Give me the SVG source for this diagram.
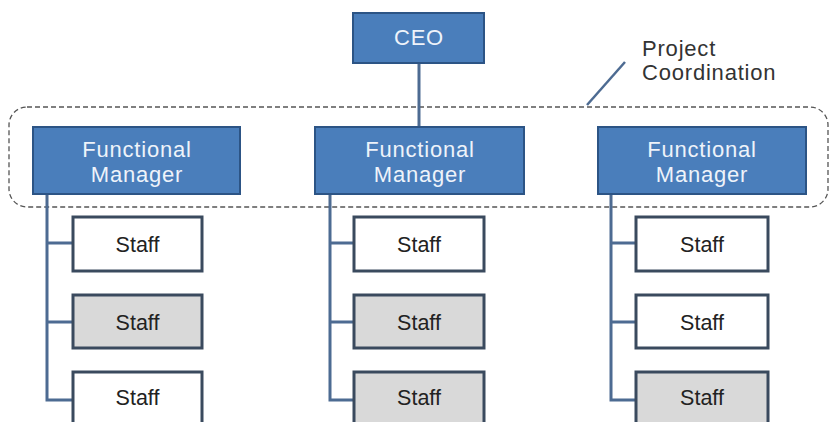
<svg xmlns="http://www.w3.org/2000/svg" width="830" height="422" viewBox="0 0 830 422">
<style>
.mgr{fill:#4A7EBB;stroke:#2C5485;stroke-width:2}
.mt{font-family:"Liberation Sans",Arial,sans-serif;font-size:22px;fill:#EEF3FA;text-anchor:middle;letter-spacing:0.8px}
.st{stroke:#3A4A5E;stroke-width:3}
.w{fill:#FFFFFF}
.g{fill:#D9D9D9}
.stt{font-family:"Liberation Sans",Arial,sans-serif;font-size:21.5px;fill:#222;text-anchor:middle}
.con{fill:none;stroke:#4D6B92;stroke-width:3}
.pc{font-family:"Liberation Sans",Arial,sans-serif;font-size:22px;fill:#333;letter-spacing:0.8px}
</style>
<rect width="830" height="422" fill="#FFFFFF"/>
<g id="coordination">
<rect x="9" y="107" width="819" height="100" rx="18" fill="none" stroke="#555" stroke-width="1.3" stroke-dasharray="5 3"/>
<line x1="587" y1="105" x2="625" y2="62" stroke="#4D6B92" stroke-width="2.5"/>
<text class="pc" x="642" y="56">Project</text>
<text class="pc" x="642" y="80">Coordination</text>
</g>
<g id="connectors">
<line class="con" x1="419" y1="63" x2="419" y2="127"/>
<path class="con" d="M47 194 V400 H73 M47 243 H73 M47 322 H73"/>
<path class="con" d="M330 194 V400 H354 M330 243 H354 M330 322 H354"/>
<path class="con" d="M611 194 V400 H636 M611 243 H636 M611 322 H636"/>
</g>
<g id="ceo">
<rect class="mgr" x="353" y="13" width="131" height="50"/>
<text class="mt" x="419" y="45">CEO</text>
</g>
<g id="fm1">
<rect class="mgr" x="33" y="127" width="207" height="67"/>
<text class="mt" x="137" y="157">Functional</text>
<text class="mt" x="137" y="182">Manager</text>
</g>
<g id="fm2">
<rect class="mgr" x="315" y="127" width="209" height="67"/>
<text class="mt" x="420" y="157">Functional</text>
<text class="mt" x="420" y="182">Manager</text>
</g>
<g id="fm3">
<rect class="mgr" x="598" y="127" width="208" height="67"/>
<text class="mt" x="702" y="157">Functional</text>
<text class="mt" x="702" y="182">Manager</text>
</g>
<g id="s11"><rect class="st w" x="73" y="217" width="129" height="54"/><text class="stt" x="137.5" y="252">Staff</text></g>
<g id="s12"><rect class="st g" x="73" y="295" width="129" height="53"/><text class="stt" x="137.5" y="330">Staff</text></g>
<g id="s13"><rect class="st w" x="73" y="372" width="129" height="56"/><text class="stt" x="137.5" y="405">Staff</text></g>
<g id="s21"><rect class="st w" x="354" y="217" width="130" height="54"/><text class="stt" x="419" y="252">Staff</text></g>
<g id="s22"><rect class="st g" x="354" y="295" width="130" height="53"/><text class="stt" x="419" y="330">Staff</text></g>
<g id="s23"><rect class="st g" x="354" y="372" width="130" height="56"/><text class="stt" x="419" y="405">Staff</text></g>
<g id="s31"><rect class="st w" x="636" y="217" width="132" height="54"/><text class="stt" x="702" y="252">Staff</text></g>
<g id="s32"><rect class="st w" x="636" y="295" width="132" height="53"/><text class="stt" x="702" y="330">Staff</text></g>
<g id="s33"><rect class="st g" x="636" y="372" width="132" height="56"/><text class="stt" x="702" y="405">Staff</text></g>
</svg>
